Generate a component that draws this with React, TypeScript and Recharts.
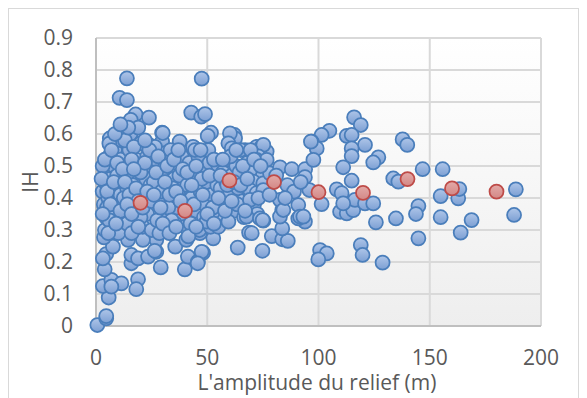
import { ScatterChart, Scatter, XAxis, YAxis, CartesianGrid, Label } from "recharts"

// axis ticks
const xTicks = [0, 50, 100, 150, 200]
const yTicks = [0, 0.1, 0.2, 0.3, 0.4, 0.5, 0.6, 0.7, 0.8, 0.9]

// points au-dessus du nuage (relief, IH)
const upperPts = [
  [13.9, 0.774], [47.5, 0.773], [10.6, 0.713], [13.9, 0.706], [17.8, 0.661], [23.8, 0.651],
  [42.8, 0.667], [47.3, 0.654], [49, 0.662], [29.7, 0.604], [29.7, 0.576], [37.6, 0.576],
  [44, 0.557], [51.7, 0.604], [50.2, 0.594], [6.2, 0.586], [10.6, 0.61], [14.1, 0.631],
  [16.9, 0.612], [15.6, 0.644], [20.3, 0.581], [23.8, 0.566], [26.4, 0.55], [30.9, 0.539],
  [30, 0.603], [43.6, 0.56], [62.2, 0.597], [62.5, 0.586], [60.2, 0.602], [59.5, 0.571],
  [61, 0.555], [67, 0.55], [72.2, 0.56], [74.5, 0.561], [76.7, 0.545], [75.2, 0.566],
]

// points bas à gauche
const lowerPts = [
  [0.6, 0.003], [4.6, 0.024], [4.6, 0.031], [5.7, 0.089], [3.1, 0.125], [6.9, 0.144],
  [11.4, 0.133], [6.9, 0.123], [18.9, 0.146], [18.1, 0.115], [3.9, 0.177], [4.6, 0.225],
  [3.1, 0.211], [7.6, 0.248], [3.6, 0.277], [15.9, 0.196], [15.9, 0.222], [18.9, 0.211],
  [23.4, 0.217], [27.1, 0.232], [29.1, 0.183], [39.9, 0.177], [41.3, 0.217], [45.8, 0.201],
  [48.1, 0.229], [27.1, 0.269], [26.4, 0.235], [21.1, 0.269], [35.6, 0.248], [40.6, 0.269],
  [14.4, 0.269], [47.5, 0.232], [45.7, 0.196], [46.7, 0.29], [44.5, 0.31], [52.7, 0.274],
  [63.7, 0.245], [68.8, 0.292], [74.8, 0.235],
]

// nuage dense, x 0-40
const blobLeft = [
  [3, 0.42], [4, 0.45], [3.5, 0.38], [5, 0.48], [4.5, 0.34], [6, 0.53], [5.5, 0.4], [7, 0.36],
  [6.5, 0.46], [8, 0.5], [7.5, 0.31], [9, 0.43], [8.5, 0.55], [10, 0.39], [9.5, 0.47], [11, 0.52],
  [10.5, 0.33], [12, 0.45], [11.5, 0.58], [4, 0.3], [6, 0.57], [3, 0.5], [8, 0.41], [10, 0.29],
  [5, 0.37], [7, 0.44], [9, 0.35], [11, 0.41], [12, 0.37], [6, 0.33],
  [13, 0.5], [14, 0.43], [15, 0.55], [13.5, 0.36], [16, 0.47], [17, 0.4], [15.5, 0.6], [18, 0.52],
  [19, 0.45], [17.5, 0.33], [20, 0.57], [21, 0.42], [19.5, 0.49], [22, 0.38], [23, 0.53],
  [22.5, 0.46], [24, 0.41], [25, 0.5], [14, 0.32], [16, 0.29], [18, 0.37], [21, 0.31], [23, 0.35],
  [24.5, 0.44], [13, 0.58], [20, 0.34], [25, 0.3], [17, 0.56], [12.5, 0.4], [19, 0.62],
  [16.5, 0.44], [14.5, 0.62],
  [26, 0.45], [27, 0.52], [28, 0.4], [29, 0.48], [30, 0.36], [31, 0.54], [32, 0.43], [33, 0.49],
  [34, 0.38], [35, 0.46], [36, 0.51], [37, 0.41], [38, 0.34], [39, 0.45], [40, 0.5], [27.5, 0.33],
  [29.5, 0.42], [31.5, 0.3], [33.5, 0.55], [35.5, 0.32], [37.5, 0.47], [39.5, 0.39], [26.5, 0.56],
  [30.5, 0.49], [34.5, 0.43], [36.5, 0.37], [28.5, 0.29], [32.5, 0.37], [38.5, 0.53], [40, 0.31],
]

// nuage, x 40-80
const blobMid = [
  [41, 0.44], [42, 0.51], [43, 0.4], [44, 0.47], [45, 0.36], [46, 0.53], [47, 0.42], [48, 0.49],
  [49, 0.38], [50, 0.45], [51, 0.51], [52, 0.41], [53, 0.47], [54, 0.35], [55, 0.5], [42.5, 0.32],
  [44.5, 0.55], [46.5, 0.3], [48.5, 0.34], [50.5, 0.55], [52.5, 0.37], [54.5, 0.44], [43.5, 0.48],
  [47.5, 0.46], [41.5, 0.28], [51.5, 0.31],
  [56, 0.43], [57, 0.48], [58, 0.39], [59, 0.52], [60, 0.41], [61, 0.47], [62, 0.36], [63, 0.5],
  [64, 0.43], [65, 0.55], [66, 0.39], [67, 0.46], [68, 0.51], [69, 0.42], [70, 0.48], [71, 0.38],
  [72, 0.45], [73, 0.53], [74, 0.41], [75, 0.47], [57.5, 0.33], [60.5, 0.53], [63.5, 0.38],
  [66.5, 0.34], [69.5, 0.55], [72.5, 0.35], [58.5, 0.45], [64.5, 0.48], [70.5, 0.44],
  [70.7, 0.451], [75.2, 0.446], [69.2, 0.425], [72.2, 0.415], [75.2, 0.425], [69.2, 0.394],
  [72.2, 0.519], [76.7, 0.519], [78.2, 0.477], [49.7, 0.326], [55, 0.31], [59.5, 0.326],
  [67.7, 0.342], [73.7, 0.336], [75.2, 0.329], [74.9, 0.331], [70, 0.29],
]

// remplissage du nuage
const blobFill = [
  [2.5, 0.46], [4, 0.52], [5, 0.42], [6.5, 0.38], [8, 0.45], [9.5, 0.51], [11, 0.36], [12, 0.49],
  [7, 0.55], [5.5, 0.29], [9, 0.32], [3, 0.35], [8.5, 0.6], [11, 0.63],
  [13, 0.45], [15, 0.41], [16, 0.52], [18, 0.43], [19, 0.39], [20, 0.48], [22, 0.51], [23, 0.42],
  [24, 0.55], [14, 0.38], [16, 0.35], [19, 0.31], [21, 0.37], [25, 0.39], [17, 0.49], [22, 0.58],
  [26, 0.41], [27, 0.48], [28, 0.53], [29, 0.37], [31, 0.45], [32, 0.5], [33, 0.41], [34, 0.33],
  [35, 0.52], [36, 0.42], [37, 0.55], [38, 0.39], [39, 0.49], [30, 0.32], [33, 0.29], [36, 0.31],
  [41, 0.48], [43, 0.44], [44, 0.38], [45, 0.5], [47, 0.55], [48, 0.41], [50, 0.35], [51, 0.47],
  [53, 0.52], [55, 0.4], [56, 0.47], [57, 0.52], [58, 0.36], [59, 0.44], [45, 0.31], [53, 0.32],
  [61, 0.39], [62, 0.45], [63, 0.55], [65, 0.44], [66, 0.5], [67, 0.36], [68, 0.46], [71, 0.52],
  [73, 0.4], [74, 0.5],
]

// x 78-100
const blobRight = [
  [79, 0.281], [83.7, 0.271], [86.2, 0.266], [83.7, 0.305], [83.7, 0.3625], [82.7, 0.394],
  [90.9, 0.378], [93.9, 0.326], [90.9, 0.336], [82.7, 0.342], [91.7, 0.342], [84.2, 0.3625],
  [82.7, 0.496], [88, 0.49], [94, 0.49], [93.9, 0.465], [95.9, 0.425], [93.2, 0.342],
  [86, 0.44], [89, 0.42], [92, 0.45], [78, 0.41], [81, 0.47], [85, 0.4],
]

// x > 95
const farPts = [
  [116, 0.652], [119, 0.628], [104.9, 0.61], [101.4, 0.597], [112.7, 0.594], [114.9, 0.597],
  [96.9, 0.576], [99.2, 0.555], [120.9, 0.566], [114.9, 0.555], [114.9, 0.531], [137.8, 0.583],
  [139.9, 0.566], [126.9, 0.527], [124.6, 0.511], [97.7, 0.519], [111.1, 0.496], [146.8, 0.49],
  [155.8, 0.49], [133.6, 0.461], [135.9, 0.451], [114.9, 0.454], [108.2, 0.427], [110.4, 0.415],
  [109.7, 0.357], [112.7, 0.352], [115.6, 0.362], [116.4, 0.394], [120.9, 0.383], [124.6, 0.383],
  [111.1, 0.383], [101.4, 0.381], [125.8, 0.324], [134.8, 0.336], [144.9, 0.375], [143.8, 0.35],
  [144.9, 0.274], [154.9, 0.34], [154.9, 0.406], [162.8, 0.399], [163.3, 0.428], [168.8, 0.331],
  [163.9, 0.292], [188.7, 0.427], [187.9, 0.347], [100.7, 0.2375], [103.7, 0.227], [99.9, 0.208],
  [119, 0.253], [119.8, 0.222], [128.8, 0.198], [96.6, 0.576],
]

// moyennes par classe (rouge)
const meanX = [20, 40, 60, 80, 100, 120, 140, 160, 180]
const meanIH = [0.385, 0.36, 0.455, 0.45, 0.418, 0.416, 0.459, 0.43, 0.42]

const blueData = [
  ...upperPts, ...lowerPts, ...blobLeft, ...blobMid, ...blobFill, ...blobRight, ...farPts,
].map(([x, y]) => ({ x, y }))
const redData = meanX.map((x, i) => ({ x, y: meanIH[i] }))

const font = "'Open Sans', sans-serif"
const grey = "#595959"

const BlueDot = (p: any) => (
  <circle cx={p.cx} cy={p.cy} r={7} fill="url(#blueFill)" stroke="#4a7ebb" strokeWidth={1.75} />
)
const RedDot = (p: any) => (
  <circle cx={p.cx} cy={p.cy} r={7} fill="url(#redFill)" stroke="#be4b48" strokeWidth={1.75} />
)

export default function App() {
  return (
    <div
      style={{
        width: 571,
        height: 392,
        border: "1px solid #d9d9d9",
        boxSizing: "border-box",
        background: "#fff",
        fontFamily: font,
      }}
    >
      <ScatterChart width={569} height={390} margin={{ top: 29, right: 37, left: 0, bottom: 28 }}>
        <defs>
          <linearGradient id="blueFill" x1="0" y1="0" x2="0" y2="1">
            <stop offset="0%" stopColor="#afc6e9" />
            <stop offset="100%" stopColor="#7c9fd3" />
          </linearGradient>
          <linearGradient id="redFill" x1="0" y1="0" x2="0" y2="1">
            <stop offset="0%" stopColor="#e3aaa8" />
            <stop offset="100%" stopColor="#d38886" />
          </linearGradient>
          <linearGradient id="plotBg" x1="0" y1="0" x2="0" y2="1">
            <stop offset="0%" stopColor="#ffffff" />
            <stop offset="100%" stopColor="#eeeeee" />
          </linearGradient>
        </defs>
        <CartesianGrid
          stroke="#d9d9d9"
          strokeWidth={2}
          fill="url(#plotBg)"
          verticalValues={xTicks}
          horizontalValues={yTicks}
        />
        <XAxis
          type="number"
          dataKey="x"
          domain={[0, 200]}
          ticks={xTicks}
          height={45}
          tickSize={0}
          tickMargin={24}
          axisLine={{ stroke: "#bfbfbf", strokeWidth: 2 }}
          tick={{ fontSize: 21, fill: grey, fontFamily: font }}
        >
          <Label
            content={() => (
              <text x={308} y={381} textAnchor="middle" fontSize={21} fill={grey} fontFamily={font}>
                L'amplitude du relief (m)
              </text>
            )}
          />
        </XAxis>
        <YAxis
          type="number"
          dataKey="y"
          domain={[0, 0.9]}
          ticks={yTicks}
          width={87}
          tickSize={0}
          tickMargin={23}
          axisLine={{ stroke: "#bfbfbf", strokeWidth: 2 }}
          tick={{ fontSize: 21, fill: grey, fontFamily: font }}
        >
          <Label
            content={() => (
              <text
                x={21}
                y={173}
                transform="rotate(-90 21 173)"
                textAnchor="middle"
                dominantBaseline="central"
                fontSize={21}
                fill={grey}
                fontFamily={font}
              >
                IH
              </text>
            )}
          />
        </YAxis>
        <Scatter data={blueData} shape={BlueDot} isAnimationActive={false} />
        <Scatter data={redData} shape={RedDot} isAnimationActive={false} />
      </ScatterChart>
    </div>
  )
}
